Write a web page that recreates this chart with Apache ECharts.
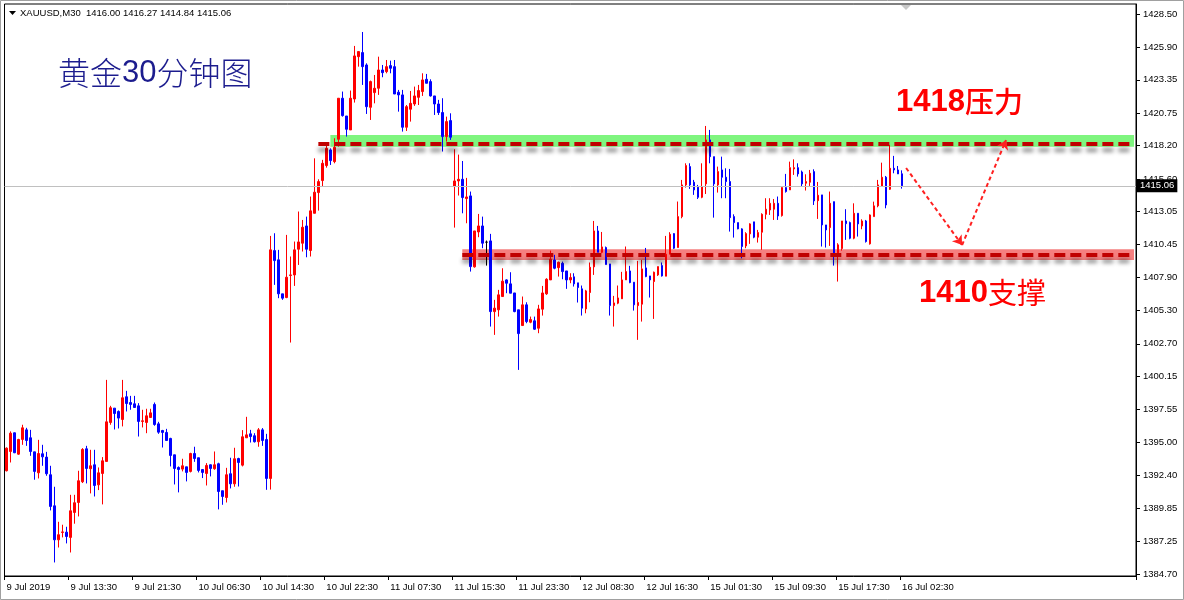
<!DOCTYPE html>
<html>
<head>
<meta charset="utf-8">
<script src="https://cdn.jsdelivr.net/npm/echarts@6/dist/echarts.min.js"></script>
<style>
html,body{margin:0;padding:0;background:#fff;}
#chart{width:1184px;height:600px;}
</style>
</head>
<body>
<div id="chart"></div>
<script>
// ---------- DATA ----------
const symbolName = 'XAUUSD,M30';
const titleText = ['黄金', '30', '分钟图'];
const xLabels = ['9 Jul 2019','9 Jul 13:30','9 Jul 21:30','10 Jul 06:30','10 Jul 14:30','10 Jul 22:30','11 Jul 07:30','11 Jul 15:30','11 Jul 23:30','12 Jul 08:30','12 Jul 16:30','15 Jul 01:30','15 Jul 09:30','15 Jul 17:30','16 Jul 02:30'];
const yTicks = [1428.50,1425.90,1423.35,1420.75,1418.20,1415.60,1413.05,1410.45,1407.90,1405.30,1402.70,1400.15,1397.55,1395.00,1392.40,1389.85,1387.25,1384.70];

const opens = [
1392.77,1394.28,1395.74,1394.07,1395.22,1395.97,1395.35,1394.25,1392.61,1394.10,
1393.84,1392.46,1390.03,1387.37,1387.95,1387.97,1387.56,1389.51,1390.29,1391.91,
1394.49,1392.93,1393.24,1391.67,1392.56,1393.50,1396.55,1397.67,1397.41,1396.78,
1398.56,1398.11,1398.01,1397.85,1396.63,1396.55,1396.94,1397.96,1396.44,1395.92,
1395.77,1395.30,1394.02,1393.03,1392.90,1393.08,1392.72,1394.12,1393.79,1392.87,
1392.56,1393.24,1392.93,1393.32,1391.21,1390.68,1392.54,1391.75,1393.73,1393.21,
1395.35,1395.66,1395.51,1395.04,1395.97,1395.22,1392.17,1409.99,1409.27,1406.61,
1406.32,1408.05,1408.09,1410.10,1410.57,1411.92,1410.00,1412.91,1414.53,1415.47,
1416.64,1417.87,1416.95,1418.70,1421.91,1420.52,1419.43,1421.85,1425.16,1425.48,
1424.51,1421.20,1422.35,1422.69,1424.12,1423.99,1424.46,1424.38,1422.38,1422.17,
1419.64,1421.05,1421.46,1421.98,1422.43,1423.39,1423.21,1422.09,1421.46,1420.79,
1418.91,1420.16,1415.00,1415.44,1415.57,1414.06,1414.27,1408.72,1411.45,1411.92,
1410.65,1410.75,1405.22,1405.36,1406.40,1407.70,1407.39,1406.68,1405.36,1404.13,
1405.75,1404.39,1404.50,1403.92,1405.41,1406.61,1407.70,1409.26,1408.66,1409.00,
1408.40,1407.70,1407.94,1407.47,1407.00,1405.43,1406.71,1408.72,1411.53,1409.86,
1410.23,1408.95,1405.69,1405.88,1406.22,1407.70,1408.40,1407.52,1405.69,1405.80,
1408.64,1408.01,1407.57,1408.09,1408.82,1407.99,1409.71,1411.32,1410.23,1412.65,
1415.13,1416.56,1415.34,1414.95,1414.16,1415.21,1418.65,1417.34,1415.13,1416.30,
1415.73,1415.39,1412.65,1412.18,1411.69,1410.36,1411.30,1412.24,1411.04,1411.43,
1412.83,1413.17,1413.23,1413.69,1412.73,1414.92,1414.74,1416.38,1416.48,1416.14,
1415.26,1415.34,1416.17,1413.90,1414.35,1412.00,1411.79,1413.82,1409.79,1410.15,
1412.31,1412.18,1410.96,1412.91,1411.92,1412.31,1410.52,1412.65,1413.49,1415.05,
1415.73,1414.79,1416.43,1416.30,1416.00];

const closes = [
1394.54,1395.71,1394.18,1395.22,1396.13,1395.14,1394.28,1392.72,1394.12,1393.86,
1392.54,1389.98,1387.37,1387.77,1387.99,1387.63,1389.64,1390.27,1391.99,1394.44,
1392.95,1393.16,1391.62,1392.61,1393.55,1396.60,1397.70,1397.25,1396.89,1398.48,
1398.03,1397.96,1397.72,1396.63,1396.68,1397.07,1397.30,1396.39,1395.79,1395.77,
1395.14,1393.97,1392.95,1392.87,1393.16,1392.64,1394.12,1393.73,1392.80,1392.64,
1393.19,1392.95,1393.24,1391.15,1390.76,1392.46,1391.75,1393.71,1393.42,1395.43,
1395.58,1395.45,1395.04,1395.97,1395.14,1392.17,1410.05,1409.21,1406.61,1406.27,
1407.91,1408.09,1410.05,1410.67,1411.82,1410.10,1413.10,1414.56,1415.39,1416.82,
1417.99,1417.03,1418.07,1421.91,1420.55,1419.48,1421.91,1425.22,1425.56,1424.38,
1421.25,1423.21,1422.69,1424.12,1423.91,1424.38,1424.25,1422.24,1422.17,1419.64,
1421.25,1421.51,1422.09,1422.51,1423.34,1423.08,1422.09,1421.46,1420.79,1418.91,
1420.08,1418.86,1415.44,1415.57,1414.14,1414.19,1408.74,1411.53,1411.92,1410.57,
1410.65,1405.22,1405.49,1406.53,1407.60,1407.44,1406.66,1405.22,1403.50,1405.75,
1404.44,1404.60,1403.84,1405.43,1406.68,1407.75,1409.32,1408.61,1409.08,1408.35,
1407.70,1407.88,1407.39,1407.10,1405.49,1406.84,1408.69,1411.53,1409.86,1410.28,
1408.90,1405.69,1405.90,1406.29,1407.70,1408.35,1407.49,1405.75,1405.93,1408.56,
1407.96,1407.70,1408.30,1408.74,1408.01,1409.71,1411.27,1410.18,1412.65,1415.13,
1416.64,1415.13,1414.74,1414.16,1414.99,1418.65,1417.34,1415.21,1416.17,1415.73,
1415.39,1412.57,1412.18,1411.69,1410.31,1411.32,1412.08,1411.04,1411.40,1412.83,
1413.23,1413.69,1413.69,1412.70,1414.92,1414.61,1416.48,1416.48,1415.99,1415.21,
1415.39,1416.04,1413.88,1414.32,1412.00,1411.61,1413.69,1409.79,1410.44,1412.31,
1412.10,1410.96,1412.91,1412.08,1412.31,1410.70,1412.78,1413.49,1415.13,1415.73,
1413.56,1416.43,1416.30,1415.99,1415.06];

const lows = [
1392.72,1393.42,1394.15,1394.02,1394.80,1394.72,1393.94,1392.07,1392.17,1393.16,
1392.38,1389.67,1385.60,1386.77,1387.56,1387.09,1386.38,1388.63,1389.20,1391.81,
1391.78,1391.00,1390.76,1391.26,1390.14,1393.50,1396.37,1396.00,1396.08,1396.24,
1397.41,1397.54,1397.72,1395.45,1396.16,1395.71,1396.94,1396.29,1395.66,1394.59,
1395.14,1393.11,1391.70,1391.08,1392.72,1391.94,1392.64,1393.47,1392.64,1392.20,
1391.62,1392.33,1392.85,1389.75,1390.11,1390.29,1391.39,1391.52,1391.54,1393.11,
1395.35,1394.98,1394.98,1394.65,1394.72,1391.28,1391.30,1407.31,1406.27,1406.14,
1406.27,1402.80,1407.23,1408.87,1409.92,1409.47,1409.53,1412.91,1413.12,1415.00,
1416.48,1416.69,1416.82,1418.13,1420.47,1418.91,1419.43,1421.57,1424.38,1422.95,
1420.68,1420.21,1421.51,1422.17,1423.55,1423.86,1423.86,1422.24,1420.86,1419.30,
1419.35,1420.08,1421.31,1421.38,1422.09,1423.08,1422.04,1420.60,1420.60,1417.74,
1418.52,1418.65,1411.79,1414.30,1412.91,1412.13,1408.35,1408.66,1411.04,1410.18,
1408.82,1404.05,1403.40,1404.83,1406.40,1406.66,1406.66,1405.17,1400.66,1404.13,
1404.31,1404.31,1403.79,1403.53,1404.91,1406.53,1407.70,1408.53,1407.96,1407.75,
1407.00,1407.44,1407.18,1405.93,1404.91,1405.09,1405.95,1408.09,1409.86,1409.79,
1408.90,1404.91,1404.05,1405.80,1406.22,1407.70,1407.44,1405.30,1403.01,1404.44,
1407.91,1406.32,1404.65,1408.01,1407.96,1407.99,1409.71,1410.12,1410.23,1412.52,
1414.92,1414.82,1414.35,1414.03,1414.09,1414.42,1416.82,1412.57,1414.53,1414.09,
1414.09,1411.48,1411.01,1411.66,1409.39,1410.18,1410.52,1410.96,1410.62,1410.05,
1412.44,1412.78,1412.39,1412.39,1412.65,1414.53,1414.74,1415.91,1415.78,1415.00,
1414.69,1415.05,1413.56,1412.47,1410.31,1410.23,1410.36,1408.82,1407.57,1409.99,
1410.83,1410.88,1410.88,1411.09,1411.66,1410.62,1410.46,1412.65,1413.38,1415.00,
1413.30,1414.74,1416.04,1415.99,1414.84];

const highs = [
1394.60,1395.85,1395.76,1395.27,1396.37,1396.13,1395.97,1394.25,1395.19,1394.80,
1394.25,1393.16,1391.52,1388.78,1388.55,1388.39,1390.89,1390.89,1392.77,1394.54,
1394.72,1394.41,1394.41,1393.03,1393.84,1399.88,1397.85,1397.67,1397.49,1399.88,
1399.02,1398.63,1398.63,1398.06,1397.54,1397.62,1397.62,1398.11,1396.60,1395.97,
1396.05,1395.35,1394.02,1393.11,1393.71,1393.08,1394.18,1394.65,1393.79,1392.87,
1393.37,1393.27,1394.28,1393.40,1391.21,1393.00,1393.79,1394.57,1393.79,1395.95,
1396.99,1395.97,1395.71,1396.11,1396.11,1395.66,1411.14,1411.35,1410.05,1406.61,
1411.22,1409.53,1410.70,1413.05,1412.39,1412.65,1414.22,1417.21,1415.57,1417.09,
1418.39,1417.99,1418.78,1421.91,1422.43,1420.52,1422.51,1426.00,1425.56,1427.09,
1424.64,1423.29,1423.73,1425.16,1424.51,1424.90,1424.85,1424.90,1422.56,1422.56,
1421.38,1422.48,1422.82,1422.95,1423.86,1423.81,1423.39,1422.09,1421.78,1421.91,
1420.47,1420.73,1417.92,1417.50,1417.00,1415.68,1414.61,1411.53,1412.86,1412.65,
1410.78,1411.30,1406.14,1406.92,1408.61,1407.75,1408.30,1406.68,1405.36,1406.40,
1405.95,1404.83,1404.83,1405.75,1407.23,1407.83,1409.99,1409.66,1409.13,1409.13,
1408.40,1408.22,1408.22,1407.47,1407.26,1406.92,1409.06,1412.31,1411.92,1411.45,
1410.31,1408.95,1406.45,1407.26,1408.33,1410.31,1408.80,1407.52,1409.19,1409.26,
1410.20,1408.01,1408.35,1408.74,1409.06,1411.14,1411.43,1411.35,1413.83,1415.52,
1416.82,1416.82,1415.52,1415.13,1416.82,1419.74,1419.43,1417.34,1416.56,1417.34,
1416.43,1416.38,1412.83,1412.18,1411.74,1411.43,1412.13,1412.24,1411.61,1412.91,
1414.09,1414.09,1414.03,1414.22,1414.95,1415.99,1416.95,1417.13,1416.82,1416.25,
1415.96,1416.30,1416.35,1415.36,1414.35,1412.00,1414.61,1413.82,1410.57,1412.31,
1413.23,1412.26,1413.69,1412.91,1412.44,1412.39,1412.83,1413.82,1415.52,1416.87,
1415.83,1418.26,1417.40,1416.61,1416.27];

// annotation levels (price) and bar indices
const resistanceBand = [1418.12, 1419.04];
const resistanceLine = 1418.33;
const supportBand = [1409.26, 1410.10];
const supportLine = 1409.67;
const resistanceStartBar = 78, resistanceBandStartBar = 81, supportStartBar = 114;
const arrowPath = [[225, 1416.45], [239, 1410.43], [250, 1418.64]];
const resistanceText = ['1418', '压力'];
const supportText = ['1410', '支撑'];

// ---------- BUILD ----------
const totalSlots = 283;           // bars + empty right-side shift area
const labelStep = 16;
const lastIdx = opens.length - 1;
const cats = [];
for (let i = 0; i < totalSlots; i++) {
  cats.push(i % labelStep === 0 && i / labelStep < xLabels.length ? xLabels[i / labelStep] : '');
}
const candles = [];
for (let i = 0; i < totalSlots; i++) {
  candles.push(i <= lastIdx ? [opens[i], closes[i], lows[i], highs[i]] : '-');
}
const lastClose = closes[lastIdx];
const lastBar = totalSlots - 1;
const header = symbolName + '  ' + [opens[lastIdx], highs[lastIdx], lows[lastIdx], closes[lastIdx]].map(v => v.toFixed(2)).join(' ');
const FONT = "'Liberation Sans', Arial, sans-serif";

const chart = echarts.init(document.getElementById('chart'), null, {renderer: 'canvas'});
chart.setOption({
  animation: false,
  backgroundColor: '#fff',
  grid: {left: 4.5, top: 4, right: 48, bottom: 24, show: true, borderColor: '#000', borderWidth: 1, backgroundColor: '#fff'},
  xAxis: {
    type: 'category', data: cats, boundaryGap: true,
    axisLine: {show: true, lineStyle: {color: '#000', width: 1}},
    axisTick: {show: true, length: 4, lineStyle: {color: '#000'},
      interval: (idx) => idx % labelStep === 0 && idx / labelStep < xLabels.length},
    axisLabel: {show: true, align: 'left', color: '#000', fontSize: 9.5, fontFamily: FONT, margin: 6,
      interval: (idx) => idx % labelStep === 0 && idx / labelStep < xLabels.length},
    splitLine: {show: false}
  },
  yAxis: {
    type: 'value', position: 'right', scale: true, min: 1384.54, max: 1429.28,
    axisLine: {show: true, lineStyle: {color: '#000', width: 1}},
    axisTick: {show: true, length: 4, lineStyle: {color: '#000'}, customValues: yTicks},
    axisLabel: {show: true, color: '#000', fontSize: 9.5, fontFamily: FONT, margin: 7,
      customValues: yTicks, formatter: (v) => Number(v).toFixed(2)},
    splitLine: {show: false}
  },
  series: [
    {
      type: 'line', data: [], z: 1, silent: true,
      markLine: {
        silent: true, symbol: 'none', animation: false,
        lineStyle: {color: '#c0c0c0', width: 1, type: 'solid'},
        label: {show: true, position: 'end', distance: 1, formatter: lastClose.toFixed(2),
          backgroundColor: '#000', color: '#fff', padding: [2, 3, 1, 3], fontSize: 9.5, fontFamily: FONT},
        data: [{yAxis: lastClose}]
      }
    },
    {
      type: 'candlestick', data: candles, barWidth: 2, z: 2,
      itemStyle: {color: '#ff0000', color0: '#0000ff', borderColor: '#ff0000', borderColor0: '#0000ff', borderColorDoji: '#000', borderWidth: 1}
    },
    {
      type: 'line', data: [], z: 3, silent: true,
      markArea: {
        silent: true,
        data: [
          [{coord: [resistanceBandStartBar, resistanceBand[1]], itemStyle: {color: 'rgba(0,235,0,0.5)'}}, {coord: [lastBar, resistanceBand[0]]}],
          [{coord: [supportStartBar, supportBand[1]], itemStyle: {color: 'rgba(235,0,0,0.5)'}}, {coord: [lastBar, supportBand[0]]}]
        ]
      }
    },
    {
      type: 'line', data: [], z: 4, silent: true,
      markLine: {
        silent: true, symbol: 'none', label: {show: false},
        lineStyle: {color: '#c00000', width: 4, type: [11, 5], shadowColor: 'rgba(0,0,0,0.45)', shadowBlur: 4, shadowOffsetY: 6},
        data: [
          [{coord: [resistanceStartBar, resistanceLine]}, {coord: [lastBar, resistanceLine]}],
          [{coord: [supportStartBar, supportLine]}, {coord: [lastBar, supportLine]}]
        ]
      }
    },
    {
      type: 'line', data: [], z: 5, silent: true,
      markLine: {
        silent: true, symbol: ['none', 'arrow'], symbolSize: 9, label: {show: false},
        lineStyle: {color: '#ff2020', width: 2, type: [4, 3]},
        data: [
          [{coord: arrowPath[0]}, {coord: arrowPath[1]}],
          [{coord: arrowPath[1]}, {coord: arrowPath[2]}]
        ]
      }
    }
  ],
  graphic: [
    {type: 'rect', shape: {x: 0.5, y: 0.5, width: 1183, height: 599}, style: {fill: 'none', stroke: '#a0a0a0', lineWidth: 1}, silent: true, z: 100},
    {type: 'polygon', shape: {points: [[9, 11], [16, 11], [12.5, 15]]}, style: {fill: '#000'}, silent: true, z: 100},
    {type: 'polygon', shape: {points: [[901, 5], [911, 5], [906, 10]]}, style: {fill: '#c8c8c8'}, silent: true, z: 100},
    {type: 'text', x: 20, y: 13, style: {text: header, font: "9.5px 'Liberation Sans', Arial, sans-serif", fill: '#000', verticalAlign: 'middle'}, silent: true, z: 100},
    {type: 'text', x: 58, y: 73, silent: true, z: 100,
      style: {
        text: '{c|' + titleText[0] + '}{d|' + titleText[1] + '}{c|' + titleText[2] + '}',
        verticalAlign: 'middle',
        rich: {
          c: {fontSize: 32, fontFamily: "'Noto Sans CJK SC', sans-serif", fontWeight: 300, fill: '#1c1c8e'},
          d: {fontSize: 31, fontFamily: "'Liberation Sans', Arial, sans-serif", fontWeight: 'normal', fill: '#1c1c8e'}
        }
      }},
    {type: 'text', x: 896, y: 102, silent: true, z: 100,
      style: {
        text: '{d|' + resistanceText[0] + '}{c|' + resistanceText[1] + '}',
        verticalAlign: 'middle',
        rich: {
          d: {fontSize: 31, fontFamily: "'Liberation Sans', Arial, sans-serif", fontWeight: 'bold', fill: '#ff0000'},
          c: {fontSize: 29, fontFamily: "'Noto Sans CJK SC', sans-serif", fontWeight: 500, fill: '#ff0000'}
        }
      }},
    {type: 'text', x: 919, y: 293, silent: true, z: 100,
      style: {
        text: '{d|' + supportText[0] + '}{c|' + supportText[1] + '}',
        verticalAlign: 'middle',
        rich: {
          d: {fontSize: 31, fontFamily: "'Liberation Sans', Arial, sans-serif", fontWeight: 'bold', fill: '#ff0000'},
          c: {fontSize: 29, fontFamily: "'Noto Sans CJK SC', sans-serif", fontWeight: 'normal', fill: '#ff0000'}
        }
      }}
  ]
});
</script>
</body>
</html>
